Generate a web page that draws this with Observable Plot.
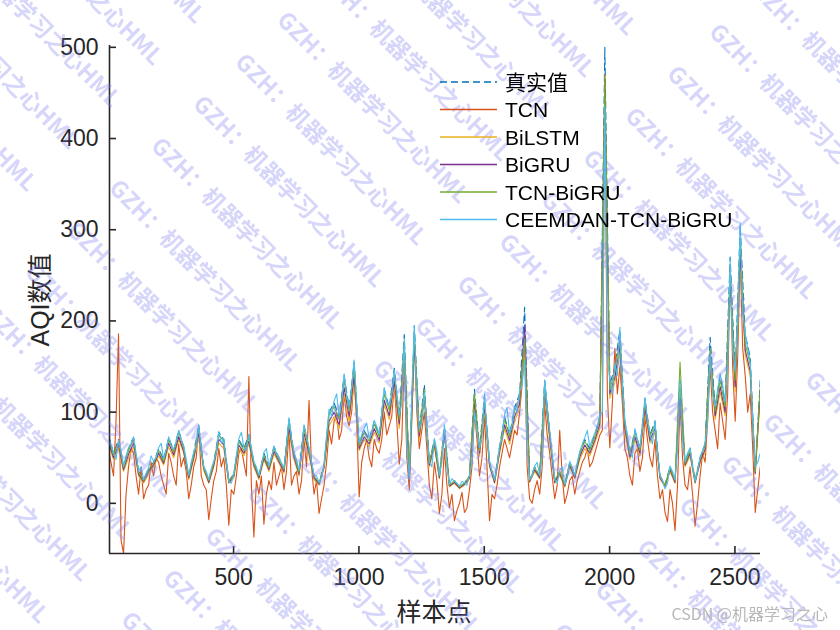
<!DOCTYPE html>
<html><head><meta charset="utf-8">
<script src="https://cdn.jsdelivr.net/npm/d3@7"></script>
<script src="https://cdn.jsdelivr.net/npm/@observablehq/plot@0.6"></script>
<style>body{margin:0;background:#fff} svg{display:block}</style>
</head><body><div id="chart"></div>
<script>
// sample indices: coarse grid (every 20th sample) and fine grid (every 10th sample)
const sampleIdx20 = d3.range(1, 2602, 20);
const sampleIdx10 = d3.range(1, 2602, 10);

const trueAQI = [
75,55,70,40,60,72,35,25,38,45,
60,48,72,58,80,62,30,55,85,40,
25,45,78,70,25,32,70,60,75,45,
30,55,40,62,50,38,92,55,35,85,
60,30,22,42,100,110,95,140,105,155,
65,80,70,90,75,125,105,148,95,185,
28,195,80,130,45,70,30,85,20,25,
18,22,30,125,60,118,45,25,62,95,
75,105,120,215,25,40,30,135,80,25,
35,20,45,30,55,70,60,75,95,500,
130,150,190,90,55,80,60,115,75,90,
30,20,40,25,135,45,60,25,50,65,
182,105,140,110,270,140,305,185,160,35,
135];

const tcn = [
60,45,30,90,186,-40,-55,10,40,60,55,30,10,40,5,15,20,45,30,50,
45,30,20,10,55,45,30,20,65,40,50,35,5,20,40,50,85,30,20,15,
-18,5,25,35,60,40,50,20,-24,15,10,30,55,60,45,30,139,20,-37,25,
10,30,-23,10,25,15,45,20,30,40,15,35,80,20,30,35,10,25,70,40,
113,40,10,25,-11,5,20,45,80,65,90,100,70,80,120,95,85,100,140,90,
7,45,60,70,50,40,70,60,55,70,100,75,85,95,130,90,43,70,160,50,
15,90,180,100,60,80,100,60,20,5,45,25,-11,10,60,20,-5,10,-19,-8,
0,12,-10,-5,15,40,100,70,30,50,95,40,-19,10,5,20,40,55,70,60,
50,65,80,75,100,130,180,40,5,0,15,25,10,40,110,75,55,30,5,20,
80,30,0,10,25,30,10,25,35,45,50,60,40,45,55,65,75,80,470,120,
61,110,170,120,150,110,60,50,30,20,55,60,35,50,95,70,50,40,70,30,
5,15,-10,-20,15,0,-30,20,110,50,20,15,40,10,-25,0,30,55,45,90,
150,100,80,60,110,90,70,120,260,150,90,160,270,170,140,100,120,60,-10,15,
40];

const bilstm = [
65,48,60,35,50,62,30,22,32,40,
52,42,62,50,70,55,26,48,72,36,
22,40,66,60,22,28,60,52,65,40,
26,48,35,54,44,33,78,48,30,72,
52,26,20,38,85,95,82,120,90,132,
58,70,62,78,66,108,92,128,82,160,
26,170,70,112,40,62,27,74,18,22,
16,20,27,108,52,102,40,22,54,82,
65,90,104,185,23,35,27,118,70,22,
31,18,40,27,48,60,52,66,82,440,
115,132,165,78,48,70,52,100,66,78,
27,18,35,22,118,40,52,22,44,56,
158,92,122,96,235,122,265,162,140,32,
118];

const bigru = [
68,50,64,37,54,66,32,24,35,42,
55,44,66,53,73,57,28,50,77,38,
23,42,70,64,23,30,64,55,68,42,
28,50,37,57,46,35,83,51,32,77,
55,28,21,40,90,100,86,127,95,140,
60,73,65,82,69,113,96,134,87,168,
27,177,74,118,42,65,28,78,19,23,
17,21,28,113,55,107,42,23,57,86,
69,95,109,195,24,37,28,123,73,23,
33,19,42,28,51,64,55,69,87,455,
120,138,172,82,51,73,55,105,69,82,
28,19,37,23,123,42,55,23,46,59,
165,96,128,100,245,128,275,168,145,33,
123];

const tcnBigru = [
72,53,68,39,58,70,34,25,37,44,
58,46,70,56,78,60,30,53,82,39,
25,44,75,68,25,31,68,58,72,44,
30,53,39,60,48,37,90,53,34,82,
58,30,22,41,97,106,92,135,101,150,
63,78,68,87,73,120,102,142,92,178,
28,187,78,125,44,68,30,82,20,25,
18,22,30,120,58,113,44,25,60,92,
73,101,116,180,25,39,30,130,77,25,
35,20,44,30,54,68,58,73,92,470,
125,145,180,87,54,78,58,112,73,87,
30,20,39,25,155,44,58,25,49,63,
170,101,135,106,255,135,290,175,152,35,
128];

const ceemdan = [
74,64,56,48,69,58,41,52,61,66,73,55,36,40,26,33,39,52,46,50,
61,66,49,58,73,64,59,68,80,70,63,48,31,45,56,62,86,58,41,35,
26,38,46,55,79,66,71,45,24,22,33,52,71,78,61,58,76,60,46,40,
31,42,56,60,41,50,63,55,51,44,39,62,94,70,56,48,36,55,86,74,
61,45,31,30,23,28,43,75,103,95,112,120,96,110,142,118,106,125,157,110,
66,75,82,88,71,78,91,84,76,98,127,112,107,118,146,120,97,110,180,60,
27,120,195,110,81,90,122,80,46,40,71,58,31,45,86,40,21,27,24,22,
19,24,23,20,31,45,100,80,61,72,120,75,46,35,26,40,63,70,98,105,
77,85,107,100,123,130,157,60,26,30,41,45,31,50,135,100,81,55,26,22,
36,40,21,28,46,40,31,45,57,65,72,80,62,70,77,85,97,100,435,160,
135,120,153,140,193,130,91,75,57,50,82,70,61,85,116,90,76,65,91,55,
31,25,16,22,41,35,26,60,135,70,46,55,61,40,24,35,51,58,66,90,
164,120,106,125,142,130,112,150,268,170,145,200,308,210,186,170,155,90,40,45,
55];

const seriesNames = ["真实值","TCN","BiLSTM","BiGRU","TCN-BiGRU","CEEMDAN-TCN-BiGRU"];
const seriesColors = ["#0072BD","#D95319","#EDB120","#7E2F8E","#77AC30","#4DBEEE"];
const seriesValues = [trueAQI, tcn, bilstm, bigru, tcnBigru, ceemdan];
const xTicks = [500,1000,1500,2000,2500];
const yTicks = [0,100,200,300,400,500];
const xLabel = "样本点";
const yLabel = "AQI数值";
const watermarkText = "GZH：机器学习之心HML";
const captionText = "CSDN @机器学习之心";

const W = 840, H = 630, mL = 109, mR = 80, mT = 45, mB = 77;
const xDomain = [5, 2602], yDomain = [-55, 502];
const FONT = "'Liberation Sans', Arial, 'Noto Sans CJK SC', sans-serif";
const AX = "#262626";

const rows = seriesValues.map(vals => {
  const xs = vals.length === sampleIdx10.length ? sampleIdx10 : sampleIdx20;
  return xs.map((x, i) => ({x, y: vals[i]}));
});

const chart = Plot.plot({
  width: W, height: H,
  marginLeft: mL, marginRight: mR, marginTop: mT, marginBottom: mB,
  style: {fontFamily: FONT, background: "#fff", color: AX},
  x: {domain: xDomain, label: null},
  y: {domain: yDomain, label: null},
  marks: [
    ...rows.map((r, k) => Plot.line(r, {
      x: "x", y: "y", stroke: seriesColors[k], strokeWidth: 1.1,
      strokeDasharray: k === 0 ? "7,4" : null, clip: true
    })),
    Plot.ruleX([xDomain[0]], {stroke: AX, strokeWidth: 1.6}),
    Plot.ruleY([yDomain[0]], {stroke: AX, strokeWidth: 1.6}),
    Plot.tickX(xTicks, {x: d => d, insetTop: (H - mT - mB) - 7, stroke: AX, strokeWidth: 1.6}),
    Plot.tickY(yTicks, {y: d => d, insetRight: (W - mL - mR) - 7, stroke: AX, strokeWidth: 1.6}),
    Plot.axisX(xTicks, {tickSize: 0, tickPadding: 15, fontSize: 23, fill: AX, label: null, tickFormat: d3.format("d")}),
    Plot.axisY(yTicks, {tickSize: 0, tickPadding: 11, fontSize: 23, fill: AX, label: null, tickFormat: d3.format("d")})
  ]
});
document.getElementById("chart").appendChild(chart);

const svg = d3.select(chart);
svg.attr("font-family", FONT);

// axis titles
svg.append("text").text(yLabel)
  .attr("transform", "translate(40,300) rotate(-90)")
  .attr("text-anchor", "middle").attr("dominant-baseline", "central")
  .attr("font-size", 25).attr("fill", AX);
svg.append("text").text(xLabel)
  .attr("x", 434).attr("y", 612)
  .attr("text-anchor", "middle").attr("dominant-baseline", "central")
  .attr("font-size", 25).attr("fill", AX);

// watermark
const wm = svg.append("g").attr("fill", "#7d7df0").attr("opacity", 0.32)
  .attr("font-family", "'Noto Sans CJK SC', sans-serif").attr("font-weight", "bold").attr("font-size", 23);
for (let a = -4; a <= 4; a++) {
  for (let b = -16; b <= 16; b++) {
    const x = 207 + a * 222 + b * 42;
    const y = 90 + a * 222 - b * 42;
    if (x < -350 || x > 900 || y < -350 || y > 700) continue;
    wm.append("text").text(watermarkText)
      .attr("transform", `translate(${x},${y}) rotate(45)`)
      .attr("text-anchor", "start")
      .attr("dominant-baseline", "hanging");
  }
}

// legend (no box, MATLAB style), drawn above the watermark
const lg = svg.append("g");
seriesNames.forEach((name, k) => {
  const y = 82 + k * 27.5;
  lg.append("line").attr("x1", 440).attr("x2", 497).attr("y1", y).attr("y2", y)
    .attr("stroke", seriesColors[k]).attr("stroke-width", 1.3)
    .attr("stroke-dasharray", k === 0 ? "7,4" : null);
  lg.append("text").text(name).attr("x", 505).attr("y", y)
    .attr("text-anchor", "start")
    .attr("dominant-baseline", "central").attr("font-size", 21).attr("fill", "#000");
});

// caption
svg.append("text").text(captionText)
  .attr("x", 828).attr("y", 620).attr("text-anchor", "end")
  .attr("font-size", 16).attr("fill", "#b8b8b8")
  .attr("font-family", "'Noto Sans CJK SC', sans-serif");
</script>
</body></html>
